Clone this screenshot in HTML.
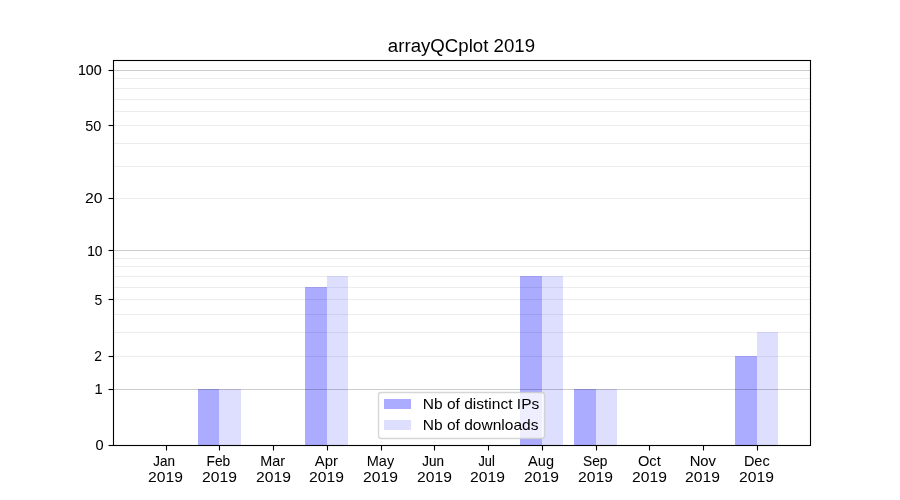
<!DOCTYPE html>
<html lang="en"><head><meta charset="utf-8"><title>arrayQCplot 2019</title>
<style>
html,body{margin:0;padding:0;background:#fff;width:900px;height:500px;overflow:hidden}
svg{display:block;position:absolute;left:0;top:0}
text{font-family:"Liberation Sans",sans-serif;fill:#000}
.t{will-change:transform}
.g rect{shape-rendering:crispEdges}
.sp{stroke:#000;stroke-width:1.111;fill:none;stroke-linecap:butt}
</style></head><body>
<svg width="900" height="500" viewBox="0 0 900 500">
<rect x="0" y="0" width="900" height="500" fill="#fff"/>
<g class="g">
<rect x="198" y="389" width="21" height="56" fill="rgb(171,171,255)"/>
<rect x="219" y="389" width="22" height="56" fill="rgb(222,222,255)"/>
<rect x="305" y="287" width="22" height="158" fill="rgb(171,171,255)"/>
<rect x="327" y="276" width="21" height="169" fill="rgb(222,222,255)"/>
<rect x="520" y="276" width="22" height="169" fill="rgb(171,171,255)"/>
<rect x="542" y="276" width="21" height="169" fill="rgb(222,222,255)"/>
<rect x="574" y="389" width="22" height="56" fill="rgb(171,171,255)"/>
<rect x="596" y="389" width="21" height="56" fill="rgb(222,222,255)"/>
<rect x="735" y="356" width="22" height="89" fill="rgb(171,171,255)"/>
<rect x="757" y="332" width="21" height="113" fill="rgb(222,222,255)"/>
</g>
<g class="g">
<rect x="114" y="78" width="696" height="1" fill="#000" fill-opacity="0.07"/>
<rect x="114" y="88" width="696" height="1" fill="#000" fill-opacity="0.07"/>
<rect x="114" y="99" width="696" height="1" fill="#000" fill-opacity="0.07"/>
<rect x="114" y="111" width="696" height="1" fill="#000" fill-opacity="0.07"/>
<rect x="114" y="125" width="696" height="1" fill="#000" fill-opacity="0.07"/>
<rect x="114" y="143" width="696" height="1" fill="#000" fill-opacity="0.07"/>
<rect x="114" y="166" width="696" height="1" fill="#000" fill-opacity="0.07"/>
<rect x="114" y="198" width="696" height="1" fill="#000" fill-opacity="0.07"/>
<rect x="114" y="258" width="696" height="1" fill="#000" fill-opacity="0.07"/>
<rect x="114" y="266" width="696" height="1" fill="#000" fill-opacity="0.07"/>
<rect x="114" y="276" width="696" height="1" fill="#000" fill-opacity="0.07"/>
<rect x="114" y="287" width="696" height="1" fill="#000" fill-opacity="0.07"/>
<rect x="114" y="299" width="696" height="1" fill="#000" fill-opacity="0.07"/>
<rect x="114" y="314" width="696" height="1" fill="#000" fill-opacity="0.07"/>
<rect x="114" y="332" width="696" height="1" fill="#000" fill-opacity="0.07"/>
<rect x="114" y="356" width="696" height="1" fill="#000" fill-opacity="0.07"/>
<rect x="114" y="70" width="696" height="1" fill="#000" fill-opacity="0.2"/>
<rect x="114" y="250" width="696" height="1" fill="#000" fill-opacity="0.2"/>
<rect x="114" y="389" width="696" height="1" fill="#000" fill-opacity="0.2"/>
</g>
<g class="sp">
<line x1="166.5" y1="445.5" x2="166.5" y2="450.5"/>
<line x1="219.5" y1="445.5" x2="219.5" y2="450.5"/>
<line x1="273.5" y1="445.5" x2="273.5" y2="450.5"/>
<line x1="327.5" y1="445.5" x2="327.5" y2="450.5"/>
<line x1="381.5" y1="445.5" x2="381.5" y2="450.5"/>
<line x1="434.5" y1="445.5" x2="434.5" y2="450.5"/>
<line x1="488.5" y1="445.5" x2="488.5" y2="450.5"/>
<line x1="542.5" y1="445.5" x2="542.5" y2="450.5"/>
<line x1="596.5" y1="445.5" x2="596.5" y2="450.5"/>
<line x1="649.5" y1="445.5" x2="649.5" y2="450.5"/>
<line x1="703.5" y1="445.5" x2="703.5" y2="450.5"/>
<line x1="757.5" y1="445.5" x2="757.5" y2="450.5"/>
<line x1="108.5" y1="70.5" x2="113.5" y2="70.5"/>
<line x1="108.5" y1="125.5" x2="113.5" y2="125.5"/>
<line x1="108.5" y1="198.5" x2="113.5" y2="198.5"/>
<line x1="108.5" y1="250.5" x2="113.5" y2="250.5"/>
<line x1="108.5" y1="299.5" x2="113.5" y2="299.5"/>
<line x1="108.5" y1="356.5" x2="113.5" y2="356.5"/>
<line x1="108.5" y1="389.5" x2="113.5" y2="389.5"/>
<line x1="108.5" y1="445.5" x2="113.5" y2="445.5"/>
<rect x="113.5" y="60.5" width="697" height="385"/>
</g>
<rect x="378.5" y="392.5" width="166" height="46" rx="2.8" ry="2.8" fill="#fff" fill-opacity="0.8" stroke="#ccc" stroke-opacity="0.8" stroke-width="1.39"/>
<g class="g"><rect x="384" y="399" width="27" height="10" fill="rgb(171,171,255)"/><rect x="384" y="420" width="27" height="10" fill="rgb(222,222,255)"/></g>
</svg>
<svg class="t" width="900" height="500" viewBox="0 0 900 500">
<text x="387.85" y="52" font-size="18.0" textLength="147.18" lengthAdjust="spacingAndGlyphs">arrayQCplot 2019</text>
<text x="101.7" y="74.5" font-size="14.6" text-anchor="end" stroke="#000" stroke-width="0.133" textLength="23.78" lengthAdjust="spacingAndGlyphs">100</text>
<text x="101.3" y="130.5" font-size="14.6" text-anchor="end" textLength="16.05" lengthAdjust="spacingAndGlyphs">50</text>
<text x="102.55" y="202.5" font-size="14.6" text-anchor="end" textLength="17.55" lengthAdjust="spacingAndGlyphs">20</text>
<text x="102.55" y="255.5" font-size="14.6" text-anchor="end" stroke="#000" stroke-width="0.119" textLength="15.35" lengthAdjust="spacingAndGlyphs">10</text>
<text x="102.3" y="304.5" font-size="14.6" text-anchor="end" textLength="7.78" lengthAdjust="spacingAndGlyphs">5</text>
<text x="101.95" y="360.5" font-size="14.6" text-anchor="end" stroke="#000" stroke-width="0.042" textLength="7.68" lengthAdjust="spacingAndGlyphs">2</text>
<text x="102.8" y="393.5" font-size="14.6" text-anchor="end" stroke="#000" stroke-width="0.085" textLength="8.18" lengthAdjust="spacingAndGlyphs">1</text>
<text x="103.65" y="449.5" font-size="14.6" text-anchor="end" stroke="#000" stroke-width="0.105" textLength="8.13" lengthAdjust="spacingAndGlyphs">0</text>
<text x="164.15" y="466" font-size="14.6" text-anchor="middle" stroke="#000" stroke-width="0.114" textLength="21.66" lengthAdjust="spacingAndGlyphs">Jan</text>
<text x="165.5" y="482.0" font-size="14.6" text-anchor="middle" textLength="34.84" lengthAdjust="spacingAndGlyphs">2019</text>
<text x="218.35" y="466" font-size="14.6" text-anchor="middle" stroke="#000" stroke-width="0.065" textLength="23.71" lengthAdjust="spacingAndGlyphs">Feb</text>
<text x="219.5" y="481.5" font-size="14.6" text-anchor="middle" textLength="34.84" lengthAdjust="spacingAndGlyphs">2019</text>
<text x="272.55" y="466" font-size="14.6" text-anchor="middle" stroke="#000" stroke-width="0.054" textLength="24.75" lengthAdjust="spacingAndGlyphs">Mar</text>
<text x="273.5" y="481.5" font-size="14.6" text-anchor="middle" textLength="34.84" lengthAdjust="spacingAndGlyphs">2019</text>
<text x="326.3" y="466" font-size="14.6" text-anchor="middle" textLength="23.2" lengthAdjust="spacingAndGlyphs">Apr</text>
<text x="326.5" y="481.5" font-size="14.6" text-anchor="middle" textLength="34.84" lengthAdjust="spacingAndGlyphs">2019</text>
<text x="380.5" y="466" font-size="14.6" text-anchor="middle" textLength="27.46" lengthAdjust="spacingAndGlyphs">May</text>
<text x="380.5" y="481.5" font-size="14.6" text-anchor="middle" textLength="34.84" lengthAdjust="spacingAndGlyphs">2019</text>
<text x="433.15" y="466" font-size="14.6" text-anchor="middle" stroke="#000" stroke-width="0.122" textLength="21.66" lengthAdjust="spacingAndGlyphs">Jun</text>
<text x="434.5" y="482.0" font-size="14.6" text-anchor="middle" textLength="34.84" lengthAdjust="spacingAndGlyphs">2019</text>
<text x="486.65" y="466" font-size="14.6" text-anchor="middle" stroke="#000" stroke-width="0.161" textLength="16.29" lengthAdjust="spacingAndGlyphs">Jul</text>
<text x="487.5" y="482.0" font-size="14.6" text-anchor="middle" textLength="34.84" lengthAdjust="spacingAndGlyphs">2019</text>
<text x="541.05" y="466" font-size="14.6" text-anchor="middle" stroke="#000" stroke-width="0.023" textLength="25.87" lengthAdjust="spacingAndGlyphs">Aug</text>
<text x="541.5" y="481.5" font-size="14.6" text-anchor="middle" textLength="34.84" lengthAdjust="spacingAndGlyphs">2019</text>
<text x="595.3" y="466" font-size="14.6" text-anchor="middle" stroke="#000" stroke-width="0.095" textLength="24.42" lengthAdjust="spacingAndGlyphs">Sep</text>
<text x="595.5" y="481.5" font-size="14.6" text-anchor="middle" textLength="34.84" lengthAdjust="spacingAndGlyphs">2019</text>
<text x="649.35" y="466" font-size="14.6" text-anchor="middle" textLength="22.79" lengthAdjust="spacingAndGlyphs">Oct</text>
<text x="649.5" y="481.5" font-size="14.6" text-anchor="middle" textLength="34.84" lengthAdjust="spacingAndGlyphs">2019</text>
<text x="702.8" y="466" font-size="14.6" text-anchor="middle" stroke="#000" stroke-width="0.054" textLength="26.35" lengthAdjust="spacingAndGlyphs">Nov</text>
<text x="702.5" y="481.5" font-size="14.6" text-anchor="middle" textLength="34.84" lengthAdjust="spacingAndGlyphs">2019</text>
<text x="756.75" y="466" font-size="14.6" text-anchor="middle" stroke="#000" stroke-width="0.045" textLength="25.75" lengthAdjust="spacingAndGlyphs">Dec</text>
<text x="756.5" y="481.5" font-size="14.6" text-anchor="middle" textLength="34.84" lengthAdjust="spacingAndGlyphs">2019</text>
<text x="422.85" y="408.5" font-size="14.6" textLength="116.4" lengthAdjust="spacingAndGlyphs">Nb of distinct IPs</text>
<text x="422.85" y="429.5" font-size="14.6" textLength="115.6" lengthAdjust="spacingAndGlyphs">Nb of downloads</text>
</svg></body></html>
